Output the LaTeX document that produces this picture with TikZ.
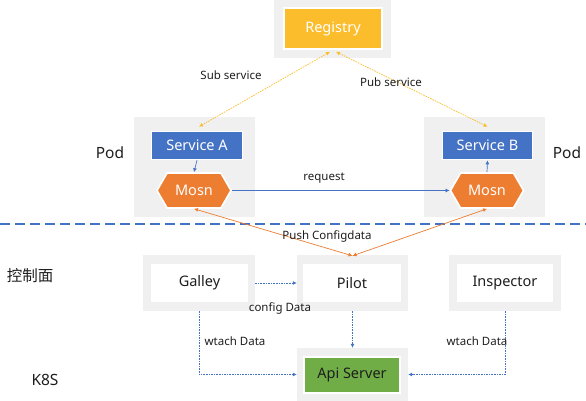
\documentclass[tikz,border=0pt]{standalone}
\usepackage{fontspec}
\setmainfont{Noto Sans}
\newfontfamily\cjk{Noto Sans CJK SC}
\usetikzlibrary{arrows.meta,shapes.symbols}
\definecolor{panelgray}{HTML}{F0F0F0}
\definecolor{regorange}{HTML}{FBBD2C}
\definecolor{svcblue}{HTML}{4472C4}
\definecolor{mosnorange}{HTML}{ED7D31}
\definecolor{apigreen}{HTML}{70AD47}
\definecolor{txt}{HTML}{1E1E1E}
\tikzset{
  panel/.style={fill=panelgray, inner sep=0pt},
  whitebox/.style={fill=white, inner sep=0pt, text=txt, font=\fontsize{14.5}{16}\selectfont},
  colbox/.style={fill=#1, draw=white, line width=1.6pt, inner sep=0pt, text=white, font=\fontsize{14.5}{16}\selectfont},
  mosnbox/.style={signal, signal to=west and east, signal pointer angle=120, fill=mosnorange,
    draw=white, line width=1.6pt, inner sep=0pt, minimum width=74pt, minimum height=35pt,
    text=white, font=\fontsize{14.5}{16}\selectfont},
  lbl/.style={text=txt, inner sep=1pt, font=\fontsize{11.5}{13}\selectfont},
  side/.style={text=txt, inner sep=0pt, font=\fontsize{15.5}{17}\selectfont},
  tip/.style={-{Latex[length=4pt,width=4pt]}},
  dottedline/.style={line width=0.7pt, dash pattern=on 1.6pt off 1pt},
}
\begin{document}
\begin{tikzpicture}[x=1pt,y=-1pt]
  \useasboundingbox (0,0) rectangle (586,401);

  % Drawing panels
  \node[panel, minimum width=117pt, minimum height=58pt] (regpanel) at (332.5,29) {};
  \node[panel, minimum width=121pt, minimum height=100pt] (podA) at (194.5,167) {};
  \node[panel, minimum width=121pt, minimum height=100pt] (podB) at (484.5,167) {};
  \node[panel, minimum width=112pt, minimum height=56pt] (galleypanel) at (199,283) {};
  \node[panel, minimum width=111pt, minimum height=56pt] (pilotpanel) at (352.5,283) {};
  \node[panel, minimum width=112pt, minimum height=56pt] (insppanel) at (505,283) {};
  \node[panel, minimum width=111pt, minimum height=53pt] (apipanel) at (352.5,374.5) {};

  % Drawing boxes
  \node[colbox=regorange, minimum width=98pt, minimum height=41pt] (registry) at (333,28.5) {Registry};
  \node[colbox=svcblue, minimum width=91pt, minimum height=28pt] (svcA) at (197,145.5) {Service A};
  \node[colbox=svcblue, minimum width=90pt, minimum height=28pt] (svcB) at (487.5,145.5) {Service B};
  \node[mosnbox] (mosnA) at (194,190.5) {Mosn};
  \node[mosnbox, minimum width=73pt] (mosnB) at (487,190.5) {Mosn};
  \node[whitebox, minimum width=97pt, minimum height=38pt] (galley) at (199.5,283) {Galley};
  \node[whitebox, minimum width=98pt, minimum height=38pt] (pilot) at (352,283) {Pilot};
  \node[whitebox, minimum width=96pt, minimum height=38pt] (inspector) at (505,283) {Inspector};
  \node[colbox=apigreen, minimum width=96pt, minimum height=36pt, text=txt] (api) at (352,375) {Api Server};

  % Drawing separator
  \draw[svcblue, line width=1.6pt, dash pattern=on 10pt off 5pt] (0,224) -- (586,224);

  % Drawing registry links
  \draw[regorange, dottedline, {Latex[length=4pt,width=4pt]}-{Latex[length=4pt,width=4pt]}]
    ([xshift=-3pt,yshift=-2pt]registry.south) -- ([xshift=2pt,yshift=4pt]svcA.north);
  \draw[regorange, dottedline, {Latex[length=4pt,width=4pt]}-{Latex[length=4pt,width=4pt]}]
    ([xshift=3pt,yshift=-2pt]registry.south) -- ([yshift=4pt]svcB.north);

  % Drawing pod links
  \draw[svcblue, line width=0.7pt, tip] (svcA.south) -- (mosnA.north);
  \draw[svcblue, line width=0.7pt, tip] (mosnB.north) -- (svcB.south);
  \draw[svcblue, line width=0.7pt, tip] (mosnA.east) -- (mosnB.west);

  % Drawing push links
  \draw[mosnorange, line width=0.7pt, {Latex[length=4pt,width=4pt]}-{Latex[length=4pt,width=4pt]}]
    (mosnA.south) -- ([yshift=-1pt]pilotpanel.north);
  \draw[mosnorange, line width=0.7pt, {Latex[length=4pt,width=4pt]}-{Latex[length=4pt,width=4pt]}]
    (mosnB.south) -- ([yshift=-1pt]pilotpanel.north);

  % Drawing control plane links
  \draw[svcblue, dottedline, tip] (galleypanel.east) -- (pilotpanel.west);
  \draw[svcblue, dottedline, tip] (pilotpanel.south) -- (apipanel.north);
  \draw[svcblue, dottedline, tip] (galleypanel.south) |- (apipanel.west);
  \draw[svcblue, dottedline, tip] (insppanel.south) |- (apipanel.east);

  % Marking labels
  \node[lbl] (subsvc) at (231,75) {Sub service};
  \node[lbl] (pubsvc) at (391,82) {Pub service};
  \node[lbl] (request) at (324,178) {request};
  \node[lbl] (push) at (327,236) {Push Configdata};
  \node[lbl] (config) at (280,308) {config Data};
  \node[lbl] (watchL) at (235,341) {wtach Data};
  \node[lbl] (watchR) at (477,341) {wtach Data};

  % Marking sides
  \node[side] (podLeft) at (110,153) {Pod};
  \node[side] (podRight) at (567,153) {Pod};
  \node[side] (ctrl) at (30,276) {\cjk 控制面};
  \node[side] (k8s) at (45,380) {K8S};
\end{tikzpicture}
\end{document}
